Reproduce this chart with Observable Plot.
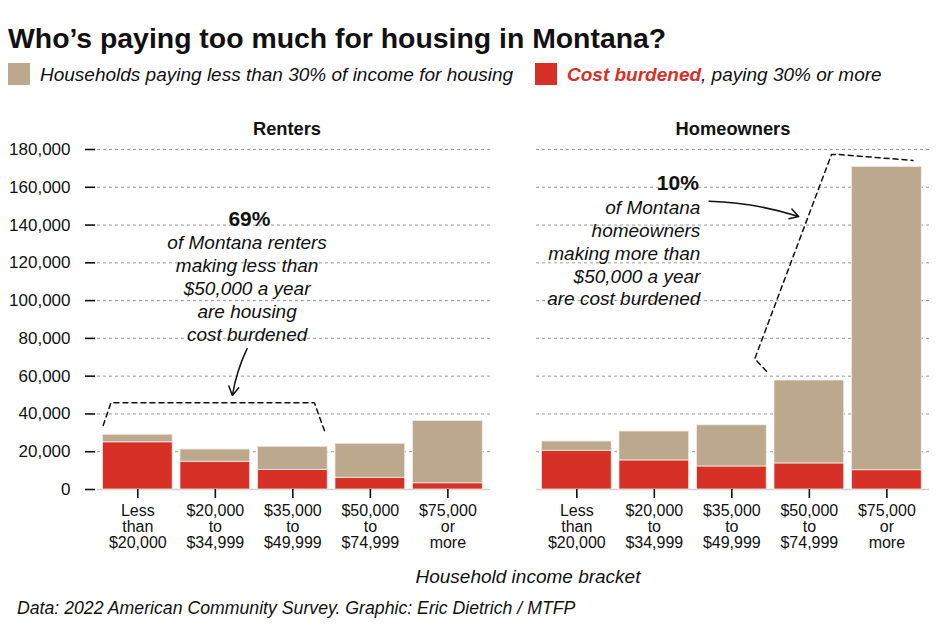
<!DOCTYPE html>
<html>
<head>
<meta charset="utf-8">
<script src="https://cdn.jsdelivr.net/npm/d3@7"></script>
<script src="https://cdn.jsdelivr.net/npm/@observablehq/plot@0.6"></script>
<style>
  html, body { margin: 0; padding: 0; background: #fff; width: 950px; height: 635px; overflow: hidden; }
  body { font-family: "Liberation Sans", Arial, sans-serif; color: #111; position: relative; }
  .abs { position: absolute; white-space: nowrap; }
  #title { left: 8px; top: 22px; font-weight: bold; font-size: 28.4px; line-height: 32px; }
  .sw { width: 22px; height: 22px; top: 63px; }
  .lg { top: 63px; font-style: italic; font-size: 19px; line-height: 24px; }
  #chart { left: 0; top: 100px; }
  #xlabel { top: 566px; font-style: italic; font-size: 19px; line-height: 22px; }
  #caption { left: 17px; top: 597px; font-style: italic; font-size: 17.7px; line-height: 22px; }
</style>
</head>
<body>
<div id="title" class="abs">Who’s paying too much for housing in Montana?</div>
<div id="sw1" class="abs sw"></div>
<div id="lg1" class="abs lg" style="left:40px"></div>
<div id="sw2" class="abs sw"></div>
<div id="lg2" class="abs lg" style="left:567px"></div>
<div id="chart" class="abs"></div>
<div id="xlabel" class="abs">Household income bracket</div>
<div id="caption" class="abs">Data: 2022 American Community Survey. Graphic: Eric Dietrich / MTFP</div>
<script>
// ---- data ----
const categories = ["Less than $20,000", "$20,000 to $34,999", "$35,000 to $49,999", "$50,000 to $74,999", "$75,000 or more"];
const tickLabels = ["Less\nthan\n$20,000", "$20,000\nto\n$34,999", "$35,000\nto\n$49,999", "$50,000\nto\n$74,999", "$75,000\nor\nmore"];
const groups = ["Renters", "Homeowners"];
const renterBurdened = [25000, 14700, 10400, 6200, 3300];
const renterTotal    = [29000, 21200, 22600, 24200, 36200];
const ownerBurdened  = [20500, 15400, 12200, 13800, 10200];
const ownerTotal     = [25400, 30700, 34000, 57700, 170800];
const yTicks = [0, 20000, 40000, 60000, 80000, 100000, 120000, 140000, 160000, 180000];
const parts = ["Households paying less than 30% of income for housing", "Cost burdened"];
const partColors = ["#bca88d", "#d73027"];

// annotation anchors (data space: x = bracket index, y = households)
const brackets = [
  {group: "Renters", x: -0.447, y: 33900},
  {group: "Renters", x: -0.347, y: 45900},
  {group: "Renters", x: 2.278, y: 45900},
  {group: "Renters", x: 2.42, y: 29800},
  {group: "Homeowners", x: 2.447, y: 62600},
  {group: "Homeowners", x: 2.296, y: 69200},
  {group: "Homeowners", x: 3.285, y: 177300},
  {group: "Homeowners", x: 3.39, y: 177300},
  {group: "Homeowners", x: 4.337, y: 174200}
];
const arrows = [
  {group: "Renters", x1: 1.41, y1: 74600, x2: 1.22, y2: 49800},
  {group: "Homeowners", x1: 1.707, y1: 152600, x2: 2.863, y2: 144500}
];
const headlines = [
  {group: "Renters", x: 1.44, y: 143000, text: "69%"},
  {group: "Homeowners", x: 1.575, y: 162200, text: "10%"}
];
const notes = [
  {group: "Renters", x: 1.41, y: 106800, text: "of Montana renters\nmaking less than\n$50,000 a year\nare housing\ncost burdened"},
  {group: "Homeowners", x: 1.594, y: 125500, text: "of Montana\nhomeowners\nmaking more than\n$50,000 a year\nare cost burdened"}
];

// ---- legend ----
document.getElementById("sw1").style.cssText += `left:8px;background:${partColors[0]}`;
document.getElementById("sw2").style.cssText += `left:535px;background:${partColors[1]}`;
document.getElementById("lg1").textContent = parts[0];
document.getElementById("lg2").innerHTML = `<span style="color:${partColors[1]};font-weight:bold">Cost burdened</span>, paying 30% or more`;

// ---- rows ----
const bars = [];
groups.forEach((g, gi) => {
  const b = gi === 0 ? renterBurdened : ownerBurdened;
  const t = gi === 0 ? renterTotal : ownerTotal;
  categories.forEach((c, i) => {
    bars.push({group: g, i, category: c, part: parts[1], y1: 0, y2: b[i]});
    bars.push({group: g, i, category: c, part: parts[0], y1: b[i], y2: t[i]});
  });
});
const headers = groups.map(g => ({group: g, text: g}));

const chart = Plot.plot({
  width: 950,
  height: 500,
  marginTop: 49,
  marginBottom: 111,
  marginLeft: 97,
  marginRight: 20,
  style: {fontFamily: "'Liberation Sans', Arial, sans-serif", fontSize: "16px", color: "#111", background: "white", overflow: "visible"},
  fx: {domain: groups, paddingInner: 0.1044, paddingOuter: 0, label: null, axis: null},
  x: {domain: [-0.52, 4.55]},
  y: {domain: [0, 180000]},
  color: {domain: parts, range: partColors},
  marks: [
    Plot.gridY({ticks: yTicks.slice(1), stroke: "#9a9a9a", strokeOpacity: 1, strokeDasharray: "3,3", strokeWidth: 1}),
    Plot.ruleY([0], {stroke: "#cfcfcf", strokeWidth: 1.5}),
    Plot.rectY(bars, {fx: "group", x1: d => d.i - 0.45, x2: d => d.i + 0.45, y1: "y1", y2: "y2", fill: "part", stroke: "#f2ede6", strokeWidth: 0.8}),
    Plot.axisY({ticks: yTicks, tickFormat: d3.format(","), tickSize: 10, tickPadding: 15, dx: -2, fontSize: 17, strokeWidth: 1.6, label: null}),
    Plot.axisX({ticks: [0, 1, 2, 3, 4], tickFormat: i => tickLabels[i], tickSize: 9, tickPadding: 6, fontSize: 16, lineHeight: 1.0, strokeWidth: 1.6, label: null}),
    Plot.text(headers.filter(d => d.group === "Renters"), {fx: "group", text: "text", frameAnchor: "top", lineAnchor: "middle", dy: -20, dx: -7, fontSize: 18.3, fontWeight: "bold", fill: "#111"}),
    Plot.text(headers.filter(d => d.group === "Homeowners"), {fx: "group", text: "text", frameAnchor: "top", lineAnchor: "middle", dy: -20, fontSize: 18.3, fontWeight: "bold", fill: "#111"}),
    Plot.line(brackets, {fx: "group", x: "x", y: "y", z: "group", stroke: "#111", strokeWidth: 1.5, strokeDasharray: "5,4"}),
    Plot.arrow(arrows.filter(d => d.group === "Renters"), {fx: "group", x1: "x1", y1: "y1", x2: "x2", y2: "y2", bend: -8, stroke: "#111", strokeWidth: 1.5, headLength: 10}),
    Plot.arrow(arrows.filter(d => d.group === "Homeowners"), {fx: "group", x1: "x1", y1: "y1", x2: "x2", y2: "y2", bend: 8, stroke: "#111", strokeWidth: 1.5, headLength: 10}),
    Plot.text(headlines.filter(d => d.group === "Renters"), {fx: "group", x: "x", y: "y", text: "text", fontSize: 21, fontWeight: "bold", textAnchor: "middle", fill: "#111"}),
    Plot.text(headlines.filter(d => d.group === "Homeowners"), {fx: "group", x: "x", y: "y", text: "text", fontSize: 21, fontWeight: "bold", textAnchor: "end", fill: "#111"}),
    Plot.text(notes.filter(d => d.group === "Renters"), {fx: "group", x: "x", y: "y", text: "text", fontSize: 19, fontStyle: "italic", textAnchor: "middle", lineAnchor: "middle", lineHeight: 1.2, fill: "#111"}),
    Plot.text(notes.filter(d => d.group === "Homeowners"), {fx: "group", x: "x", y: "y", text: "text", fontSize: 19, fontStyle: "italic", textAnchor: "end", lineAnchor: "middle", lineHeight: 1.2, fill: "#111"})
  ]
});
document.getElementById("chart").appendChild(chart);

// center the x-axis title under the panels
const xl = document.getElementById("xlabel");
xl.style.left = (528 - xl.offsetWidth / 2) + "px";
</script>
</body>
</html>
